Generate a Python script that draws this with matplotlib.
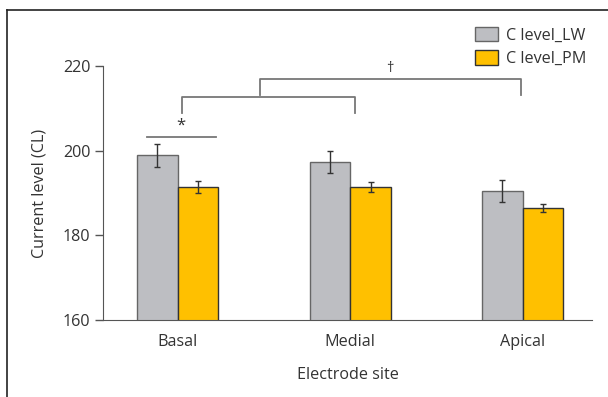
import matplotlib
matplotlib.use("Agg")
import matplotlib.pyplot as plt
from matplotlib.lines import Line2D
import numpy as np

categories = ["Basal", "Medial", "Apical"]
lw_values = [198.9, 197.3, 190.4]
lw_errors = [2.7, 2.6, 2.6]
pm_values = [191.4, 191.5, 186.5]
pm_errors = [1.4, 1.2, 1.0]
series_labels = ["C level_LW", "C level_PM"]
yticks = [160, 180, 200, 220]

plt.rcParams['font.family'] = ['Open Sans', 'DejaVu Sans']
txt = '#333333'
fs = 11.6

fig = plt.figure(figsize=(6.08, 3.97), dpi=100)
ax = fig.add_axes([0.169, 0.193, 0.8055, 0.6415])

x = np.arange(len(categories))
w = 0.236
ax.bar(x - w/2, lw_values, w, color='#BDBEC2', edgecolor='#666666', linewidth=1.0, label=series_labels[0], zorder=2)
ax.bar(x + w/2, pm_values, w, color='#FFC000', edgecolor='#333333', linewidth=1.0, label=series_labels[1], zorder=2)
ax.errorbar(x - w/2, lw_values, yerr=lw_errors, fmt='none', ecolor='#333333', elinewidth=1.0, capsize=2.5, capthick=1.0, zorder=3)
ax.errorbar(x + w/2, pm_values, yerr=pm_errors, fmt='none', ecolor='#333333', elinewidth=1.0, capsize=2.5, capthick=1.0, zorder=3)

ax.set_xlim(-0.435, 2.405)
ax.set_ylim(160, 220)
ax.set_yticks(yticks)
ax.set_xticks(x)
ax.set_xticklabels(categories)
for s in ['top', 'right']:
    ax.spines[s].set_visible(False)
ax.spines['left'].set_bounds(160, 220)
ax.spines['left'].set_color('#555555')
ax.spines['bottom'].set_color('#555555')
ax.tick_params(axis='x', length=0, pad=10, labelsize=fs, labelcolor=txt)
ax.tick_params(axis='y', length=6, width=1, color='#555555', labelsize=fs, labelcolor=txt, pad=3)
ax.set_ylabel("Current level (CL)", fontsize=fs, color=txt, labelpad=11)
ax.set_xlabel("Electrode site", fontsize=fs, color=txt, labelpad=12)

gc = '#777777'
# significance line (*)
ax.plot([-0.178, 0.22], [203.3, 203.3], color=gc, lw=1.3, clip_on=False)
ax.text(0.02, 204.0, "*", ha='center', va='bottom', fontsize=12, color=txt)
# bracket 1 Basal-Medial
ax.plot([0.027, 0.027, 1.03, 1.03], [208.9, 212.6, 212.6, 208.9], color=gc, lw=1.3, clip_on=False)
# bracket 2 to Apical
ax.plot([0.479, 0.479, 1.99, 1.99], [213.1, 216.9, 216.9, 213.1], color=gc, lw=1.3, clip_on=False)
ax.text(1.23, 217.6, "\u2020", ha='center', va='bottom', fontsize=10.5, color=txt)

leg = fig.legend(*ax.get_legend_handles_labels(), loc='upper left',
                 bbox_to_anchor=(467/608, 1 - 19/397), frameon=False,
                 fontsize=fs, handlelength=1.4, handleheight=1.0, handletextpad=0.5,
                 labelspacing=0.4, borderpad=0.0)
for t in leg.get_texts():
    t.set_color(txt)

# figure frame (top and left)
fig.add_artist(Line2D([7/608, 1], [1 - 10/397, 1 - 10/397], color='#222222', lw=1.2, transform=fig.transFigure))
fig.add_artist(Line2D([7/608, 7/608], [0, 1 - 10/397], color='#222222', lw=1.2, transform=fig.transFigure))

fig.savefig("out.png", dpi=100)
